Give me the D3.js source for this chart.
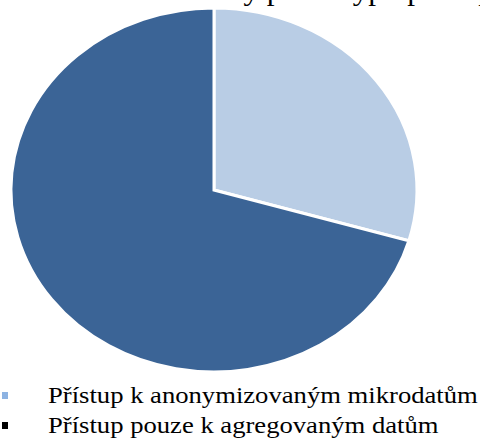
<!DOCTYPE html>
<html>
<head>
<meta charset="utf-8">
<script src="https://cdn.jsdelivr.net/npm/d3@7"></script>
<style>
  html, body { margin: 0; padding: 0; background: #ffffff; }
  svg { display: block; }
</style>
</head>
<body>
<svg id="chart" width="480" height="439"></svg>
<script>
const titleText = "Uživatelé národní statistiky podle typu přístupu (%)";
const categories = ["Přístup k anonymizovaným mikrodatům", "Přístup pouze k agregovaným datům"];
const values = [29.5, 70.5];
const sliceColors = ["#b9cde5", "#3b6496"];
const legendMarkerColors = ["#8db3e2", "#000000"];

const FONT = "'Liberation Serif'";
const svg = d3.select("#chart");
const cx = 214, cy = 190, rx = 203, ry = 182;

// Title (cut off at top edge as in the reference)
svg.append("text")
  .attr("transform", "translate(240,0) scale(1.115,1)")
  .attr("text-anchor", "middle")
  .style("font-family", FONT)
  .style("font-size", "28px")
  .attr("fill", "#000")
  .text(titleText);

const pie = d3.pie().sort(null).value(d => d)(values);
const arc = d3.arc().innerRadius(0).outerRadius(1);

const g = svg.append("g")
  .attr("transform", `translate(${cx},${cy}) scale(${rx},${ry})`);

g.selectAll("path")
  .data(pie)
  .join("path")
  .attr("d", arc)
  .attr("fill", (d, i) => sliceColors[i])
  .attr("stroke", "#ffffff")
  .attr("stroke-width", 3)
  .attr("vector-effect", "non-scaling-stroke");

// Legend
const items = svg.append("g").selectAll("g")
  .data(categories)
  .join("g")
  .attr("transform", (d, i) => `translate(0,${403 + i * 30})`);

items.append("rect")
  .attr("x", 2).attr("y", -11)
  .attr("width", 6).attr("height", 7)
  .attr("fill", (d, i) => legendMarkerColors[i]);

const labels = items.append("text")
  .style("font-family", FONT)
  .style("font-size", "24px")
  .attr("fill", "#000")
  .text(d => d);

const w0 = labels.node().getComputedTextLength();
const sx = w0 > 0 ? 430 / w0 : 1.115;
labels.attr("transform", `translate(48,0) scale(${sx},1)`);
</script>
</body>
</html>
